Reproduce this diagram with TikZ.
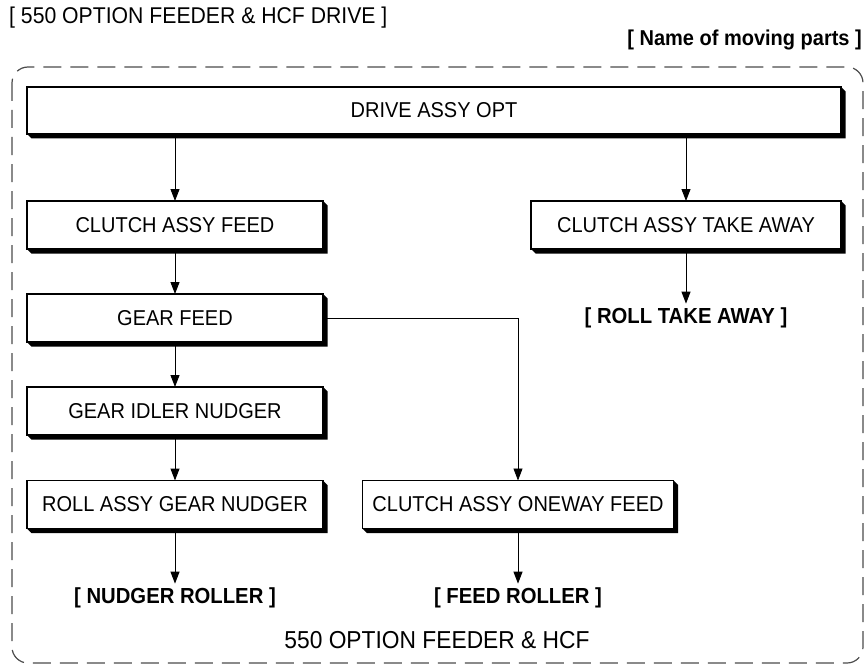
\documentclass[tikz,border=0pt]{standalone}
\usepackage{fontspec}
\setmainfont{Liberation Sans}
\newfontfamily\condf[FakeStretch=0.93]{Liberation Sans}
\usetikzlibrary{arrows.meta,calc}
\newcommand\sd{4.5}
\newcommand\boxshadow[1]{\fill[black] (#1.south west) -- ++(\sd,\sd) -- ($(#1.south east)+(\sd,\sd)$) -- ($(#1.north east)+(\sd,\sd)$) -- (#1.north east) -- (#1.south east) -- cycle;}
\begin{document}
\begin{tikzpicture}[x=1pt,y=-1pt,
  box/.style={draw=black, line width=1.1pt, fill=white, inner sep=0pt, outer sep=0pt,
    minimum height=48pt, font=\condf\fontsize{21.5}{25}\selectfont},
  lbl/.style={inner sep=4pt, font=\condf\fontsize{21.8}{25}\selectfont\bfseries},
  arr/.style={line width=1pt, -{Triangle[length=12pt,width=9pt]}},
  frame/.style={draw=black!70, line width=1.2pt, dash pattern=on 18pt off 9pt, rounded corners=16pt}]
\useasboundingbox (0,0) rectangle (867,666);
\draw[frame] (12,67) rectangle (863,663);
\node[anchor=west, inner sep=0pt, font=\condf\fontsize{22.8}{26}\selectfont] (title) at (9,18) {[ 550 OPTION FEEDER \& HCF DRIVE ]};
\node[anchor=east, inner sep=0pt, font=\condf\fontsize{21.5}{25}\selectfont\bfseries] (nmp) at (862,40) {[ Name of moving parts ]};
\node[box, minimum width=814pt, minimum height=47pt] (drive) at (434,110.5) {DRIVE ASSY OPT};
\node[box, minimum width=296pt] (cf) at (175,225) {CLUTCH ASSY FEED};
\node[box, minimum width=310pt] (cta) at (686,225) {CLUTCH ASSY TAKE AWAY};
\node[box, minimum width=296pt] (gf) at (175,318) {GEAR FEED};
\node[box, minimum width=296pt] (gin) at (175,411) {GEAR IDLER NUDGER};
\node[box, minimum width=296pt] (rag) at (175,504.5) {ROLL ASSY GEAR NUDGER};
\node[box, minimum width=311pt] (cof) at (518,504.5) {CLUTCH ASSY ONEWAY FEED};
\foreach \n in {drive,cf,cta,gf,gin,rag,cof}{\boxshadow{\n}}
\node[lbl] (lta) at (686,318) {[ ROLL TAKE AWAY ]};
\node[lbl] (lnr) at (175,598) {[ NUDGER ROLLER ]};
\node[lbl] (lfr) at (518,598) {[ FEED ROLLER ]};
\node[inner sep=0pt, font=\condf\fontsize{24.5}{28}\selectfont] (foot) at (437,640) {550 OPTION FEEDER \& HCF};
\draw[arr] (drive.south -| cf.north) -- (cf.north);
\draw[arr] (drive.south -| cta.north) -- (cta.north);
\draw[arr] (cf.south) -- (gf.north);
\draw[arr] (gf.south) -- (gin.north);
\draw[arr] (gin.south) -- (rag.north);
\draw[arr] (cta.south) -- (lta.north);
\draw[arr] (rag.south) -- (lnr.north);
\draw[arr] (cof.south) -- (lfr.north);
\draw[line width=0.8pt, -{Triangle[length=12pt,width=9pt]}] (gf.east) -| (cof.north);
\end{tikzpicture}
\end{document}
